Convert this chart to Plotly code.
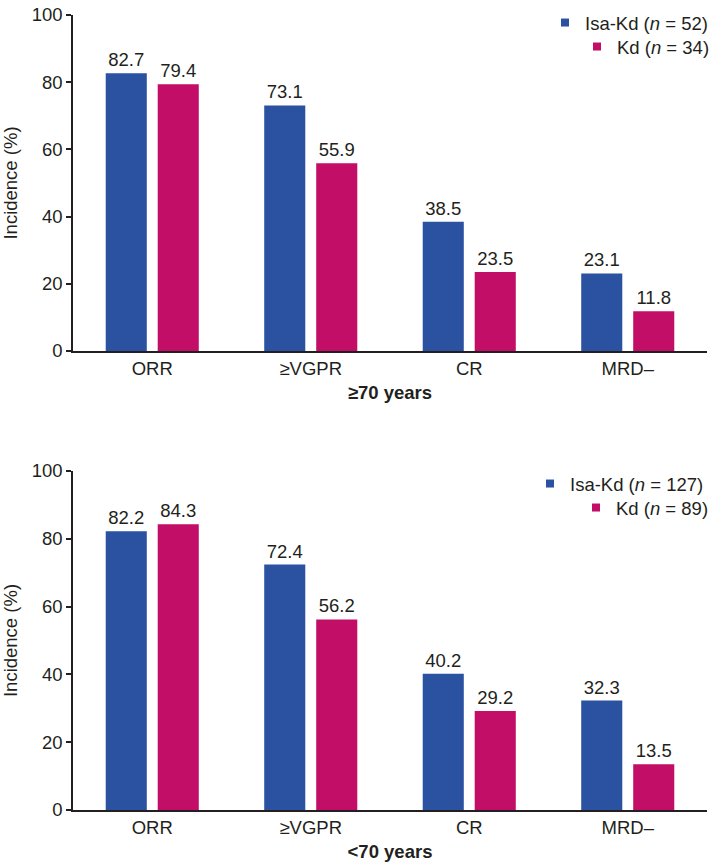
import plotly.graph_objects as go

categories = ["ORR", "≥VGPR", "CR", "MRD–"]

old_isa = [82.7, 73.1, 38.5, 23.1]
old_kd = [79.4, 55.9, 23.5, 11.8]
young_isa = [82.2, 72.4, 40.2, 32.3]
young_kd = [84.3, 56.2, 29.2, 13.5]

old_isa_name = "Isa-Kd (<i>n</i> = 52)"
old_kd_name = "Kd (<i>n</i> = 34)"
young_isa_name = "Isa-Kd (<i>n</i> = 127)"
young_kd_name = "Kd (<i>n</i> = 89)"

title_top = "<b>≥70 years</b>"
title_bottom = "<b><70 years</b>"

BLUE = "#2A52A0"
PINK = "#C20E66"
FONT = "Liberation Sans, Arial, sans-serif"
TXT = "#231F20"
FS = 18.5

fig = go.Figure()

def add(vals, name, color, xa, ya, legend):
    fig.add_trace(go.Bar(
        x=categories, y=vals, name=name, marker_color=color,
        marker_line_width=0, showlegend=False,
        text=[f"{v:.1f}" for v in vals], textposition="outside",
        textfont=dict(size=FS, color=TXT, family=FONT),
        cliponaxis=False, xaxis=xa, yaxis=ya,
    ))
    # legend entry with a small square key
    fig.add_trace(go.Scatter(
        x=[None], y=[None], mode="markers", name=name,
        marker=dict(symbol="square", size=8, color=color),
        xaxis=xa, yaxis=ya, legend=legend, showlegend=True,
    ))

add(old_isa, old_isa_name, BLUE, "x", "y", "legend")
add(old_kd, old_kd_name, PINK, "x", "y", "legend2")
add(young_isa, young_isa_name, BLUE, "x2", "y2", "legend3")
add(young_kd, young_kd_name, PINK, "x2", "y2", "legend4")

H = 864
L, R = 73, 2
PW = 709 - L - R

axis_common = dict(showline=True, linecolor=TXT, linewidth=1.5, automargin=False,
                   tickfont=dict(size=FS, color=TXT, family=FONT))

yax = dict(range=[0, 100], tickvals=[0, 20, 40, 60, 80, 100], ticks="outside",
           ticklen=5, tickcolor=TXT, tickwidth=1.5, showgrid=False, zeroline=False,
           title=dict(text="Incidence (%)", font=dict(size=FS, color=TXT, family=FONT), standoff=16),
           **axis_common)
xax = dict(ticks="", showgrid=False, **axis_common)

def leg(text_x, yc):
    return dict(x=(text_x - 40 - L) / PW, xanchor="left", y=1 - yc / H, yanchor="middle",
                font=dict(size=FS, color=TXT, family=FONT), bgcolor="rgba(0,0,0,0)",
                itemwidth=30, borderwidth=0)

fig.update_layout(
    width=709, height=864,
    paper_bgcolor="white", plot_bgcolor="white",
    font=dict(family=FONT, color=TXT),
    margin=dict(l=L, r=R, t=0, b=0, autoexpand=False),
    showlegend=True,
    barmode="group", bargap=0.344, bargroupgap=0.21,
    xaxis=dict(domain=[0, 1], anchor="y",
               title=dict(text=title_top, font=dict(size=FS, color=TXT, family=FONT), standoff=8),
               **xax),
    yaxis=dict(domain=[1 - 351 / H, 1 - 15 / H], anchor="x", **yax),
    xaxis2=dict(domain=[0, 1], anchor="y2",
                title=dict(text=title_bottom, font=dict(size=FS, color=TXT, family=FONT), standoff=8),
                **xax),
    yaxis2=dict(domain=[1 - 810 / H, 1 - 471 / H], anchor="x2", **yax),
    legend=leg(585, 23),
    legend2=leg(617, 47),
    legend3=leg(570, 484),
    legend4=leg(616, 508),
)

fig.write_html(
    "out.html",
    config={"displayModeBar": False},
    post_script="document.body.style.margin='0px';document.body.style.overflow='hidden';",
)
